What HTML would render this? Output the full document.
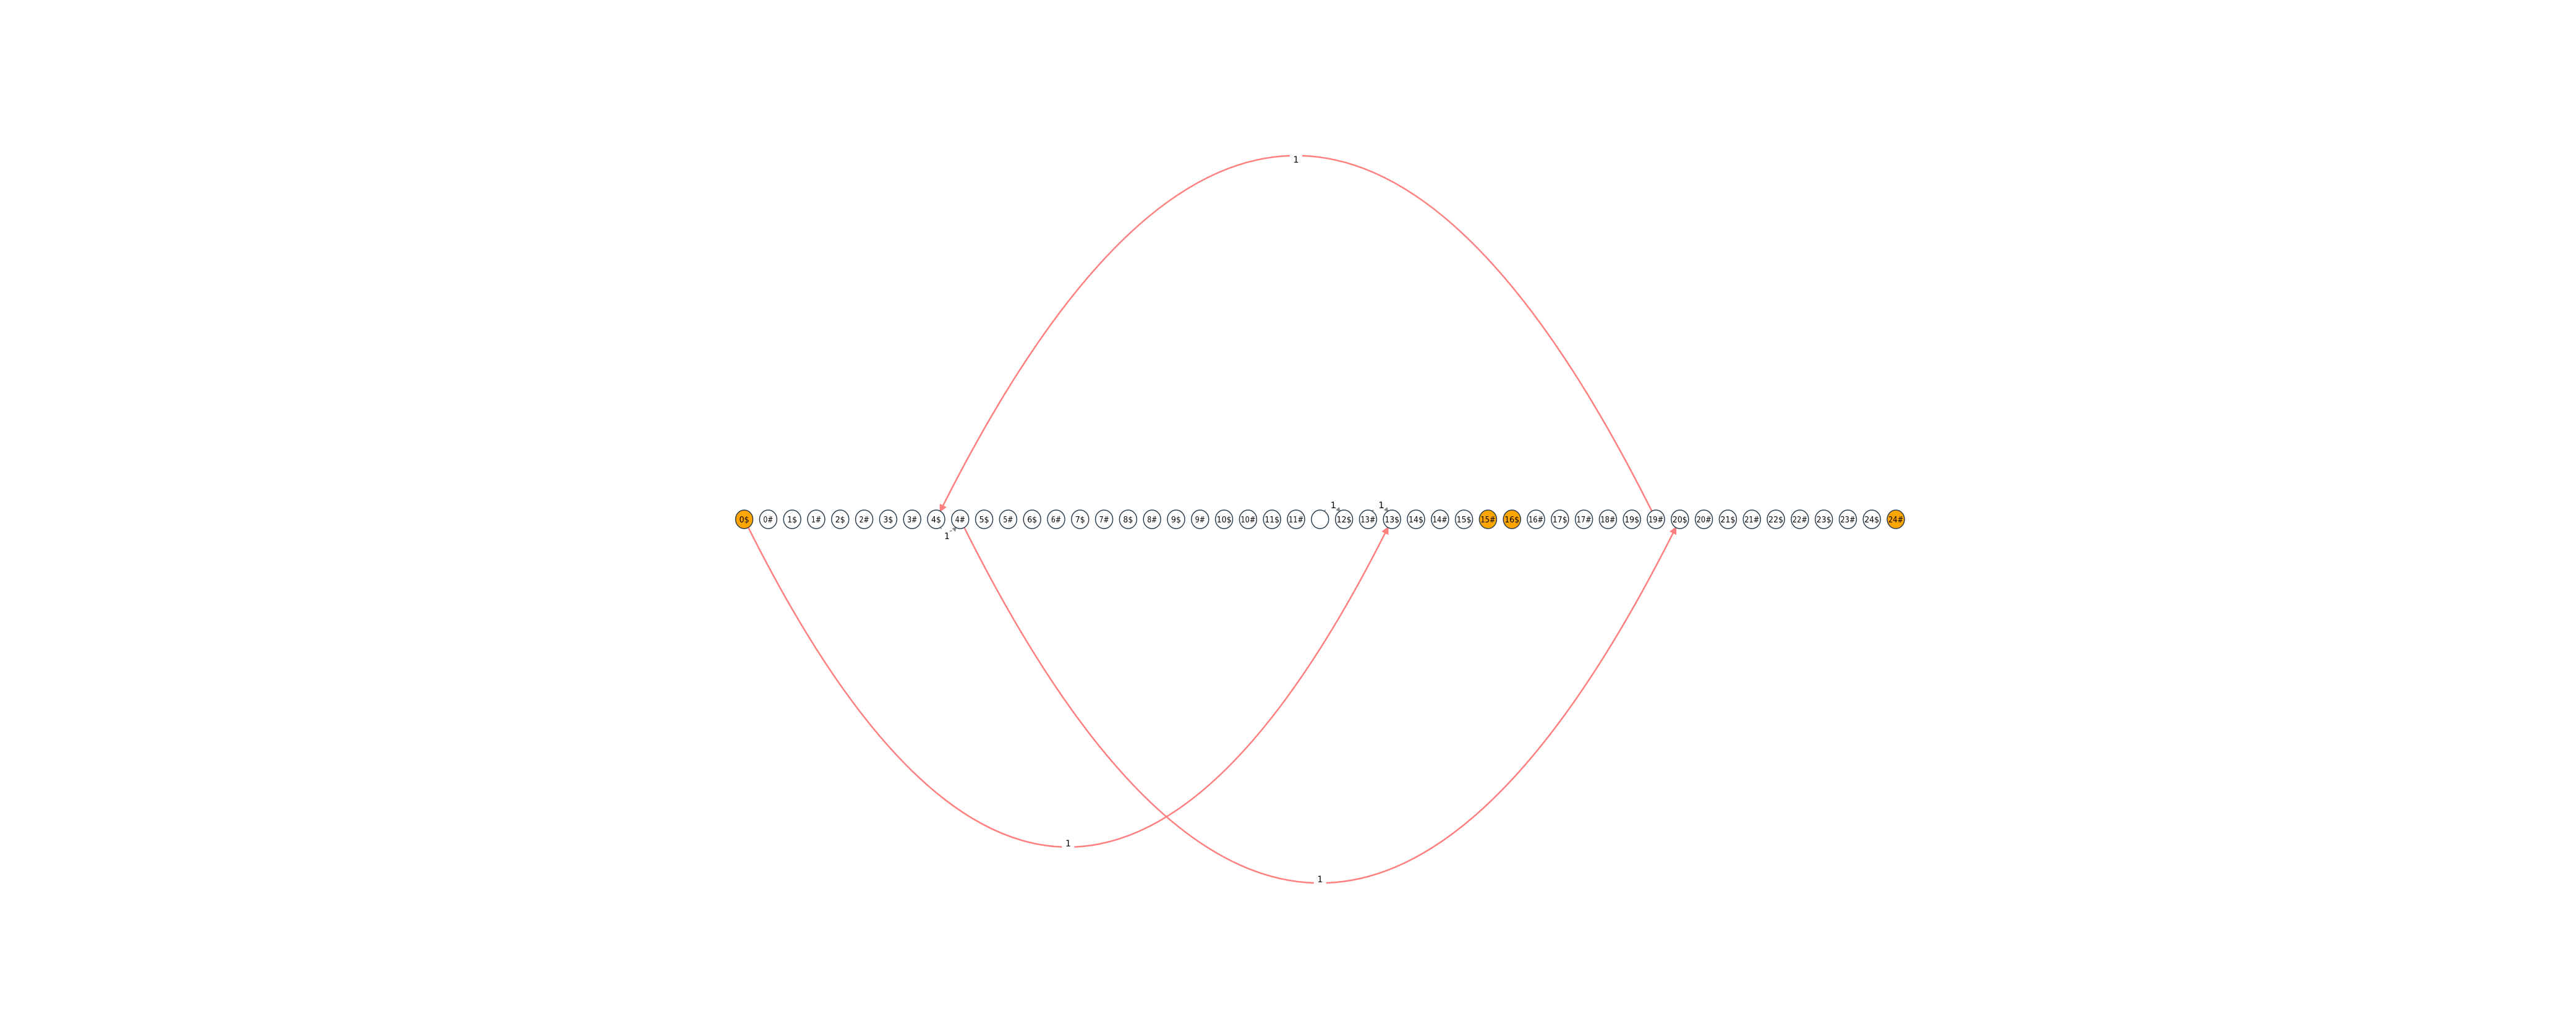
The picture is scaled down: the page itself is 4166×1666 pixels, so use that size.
<!DOCTYPE html>
<html><head><meta charset="utf-8"><style>
html,body{margin:0;padding:0;background:#fff;}
svg{display:block;}
text{font-family:"DejaVu Sans","Liberation Sans",sans-serif;}
</style></head><body>
<svg id="chart" width="4166" height="1666" viewBox="0 0 4166 1666" xmlns="http://www.w3.org/2000/svg">
<defs>
<marker id="arr" viewBox="0 0 10 10" refX="9" refY="5" markerWidth="5" markerHeight="5" orient="auto"><path d="M0,0L10,5L0,10z" fill="#ff7f7f"/></marker>
<marker id="arrg" viewBox="0 0 10 10" refX="9" refY="5" markerWidth="5" markerHeight="5" orient="auto"><path d="M0,0L10,5L0,10z" fill="#888"/></marker>
</defs>
<g id="edges"></g>
<g id="nodes"></g>
</svg>
<script>
const nodeLabels = ["0$","0#","1$","1#","2$","2#","3$","3#","4$","4#","5$","5#","6$","6#","7$","7#","8$","8#","9$","9#","10$","10#","11$","11#","","12$","13#","13$","14$","14#","15$","15#","16$","16#","17$","17#","18#","19$","19#","20$","20#","21$","21#","22$","22#","23$","23#","24$","24#"];
const highlighted = [0, 31, 32, 48];
const edgeFrom = [38, 0, 9];
const edgeTo = [8, 27, 39];
const edgeSide = [-1, 1, 1];
const edgeWeight = ["1","1","1"];
const shortFrom = [24, 26, 8];
const shortTo = [25, 27, 9];
const shortSide = [-1, -1, 1];
const shortWeight = ["1","1","1"];

const NS="http://www.w3.org/2000/svg";
const x0=1203.6, dx=38.8, yRow=840, R=14;
const xPos=i=>x0+i*dx;
const eg=document.getElementById('edges'), ng=document.getElementById('nodes');
function mk(tag,attrs,parent){const e=document.createElementNS(NS,tag);for(const k in attrs)e.setAttribute(k,attrs[k]);parent.appendChild(e);return e;}

edgeFrom.forEach((f,i)=>{
  const t=edgeTo[i], s=edgeSide[i];
  const xa=xPos(f), xb=xPos(t), mx=(xa+xb)/2, h=Math.abs(xb-xa)/2;
  const apexY=yRow+s*h, cy=yRow+2*s*h;
  const ang1=Math.atan2(cy-yRow,mx-xa), ang2=Math.atan2(cy-yRow,mx-xb);
  const sx=xa+R*Math.cos(ang1), sy=yRow+R*Math.sin(ang1);
  const ex=xb+R*Math.cos(ang2), ey=yRow+R*Math.sin(ang2);
  const p=mk('path',{d:`M${sx},${sy} Q${mx},${cy} ${ex},${ey}`,fill:'none',stroke:'#ff7f7f','stroke-width':2.5,'marker-end':'url(#arr)'},eg);
  
  
  mk('rect',{x:mx-10,y:apexY-10,width:20,height:20,fill:'#fff'},eg);
  const lb=mk('text',{x:mx,y:apexY+5,'font-size':14,'text-anchor':'middle',fill:'#000'},eg);
  lb.textContent=edgeWeight[i];
  
  
});

shortFrom.forEach((f,i)=>{
  const t=shortTo[i], s=shortSide[i];
  const xa=xPos(f), xb=xPos(t), mx=(xa+xb)/2;
  const sy=yRow+s*R*0.9, cy=yRow+s*R*1.9;
  const p=mk('path',{d:`M${xa+6},${sy} Q${mx},${cy} ${xb-6},${sy}`,fill:'none',stroke:'#888','stroke-width':1.5,'stroke-dasharray':'4 14','marker-end':'url(#arrg)'},eg);
  
  
  const lb=mk('text',{x:mx+(s<0?2:-2),y:s<0?yRow-R-4:yRow+R+18,'font-size':14,'text-anchor':'middle',fill:'#000'},eg);
  lb.textContent=shortWeight[i];
  
  
});

nodeLabels.forEach((lab,i)=>{
  const g=mk('g',{},ng);
  
  
  mk('ellipse',{cx:xPos(i),cy:yRow,rx:R,ry:R+1,fill:highlighted.includes(i)?'#ffa500':'#fff',stroke:'#2f3f4f','stroke-width':1.5},g);
  const t=mk('text',{x:xPos(i),y:yRow+5,'font-size':13,'text-anchor':'middle',fill:'#000','textLength':lab.length>2?24:(lab.length?16:0),lengthAdjust:'spacingAndGlyphs'},g);
  if(!lab.length)t.removeAttribute('textLength');
  t.textContent=lab;
});
</script>
</body></html>
